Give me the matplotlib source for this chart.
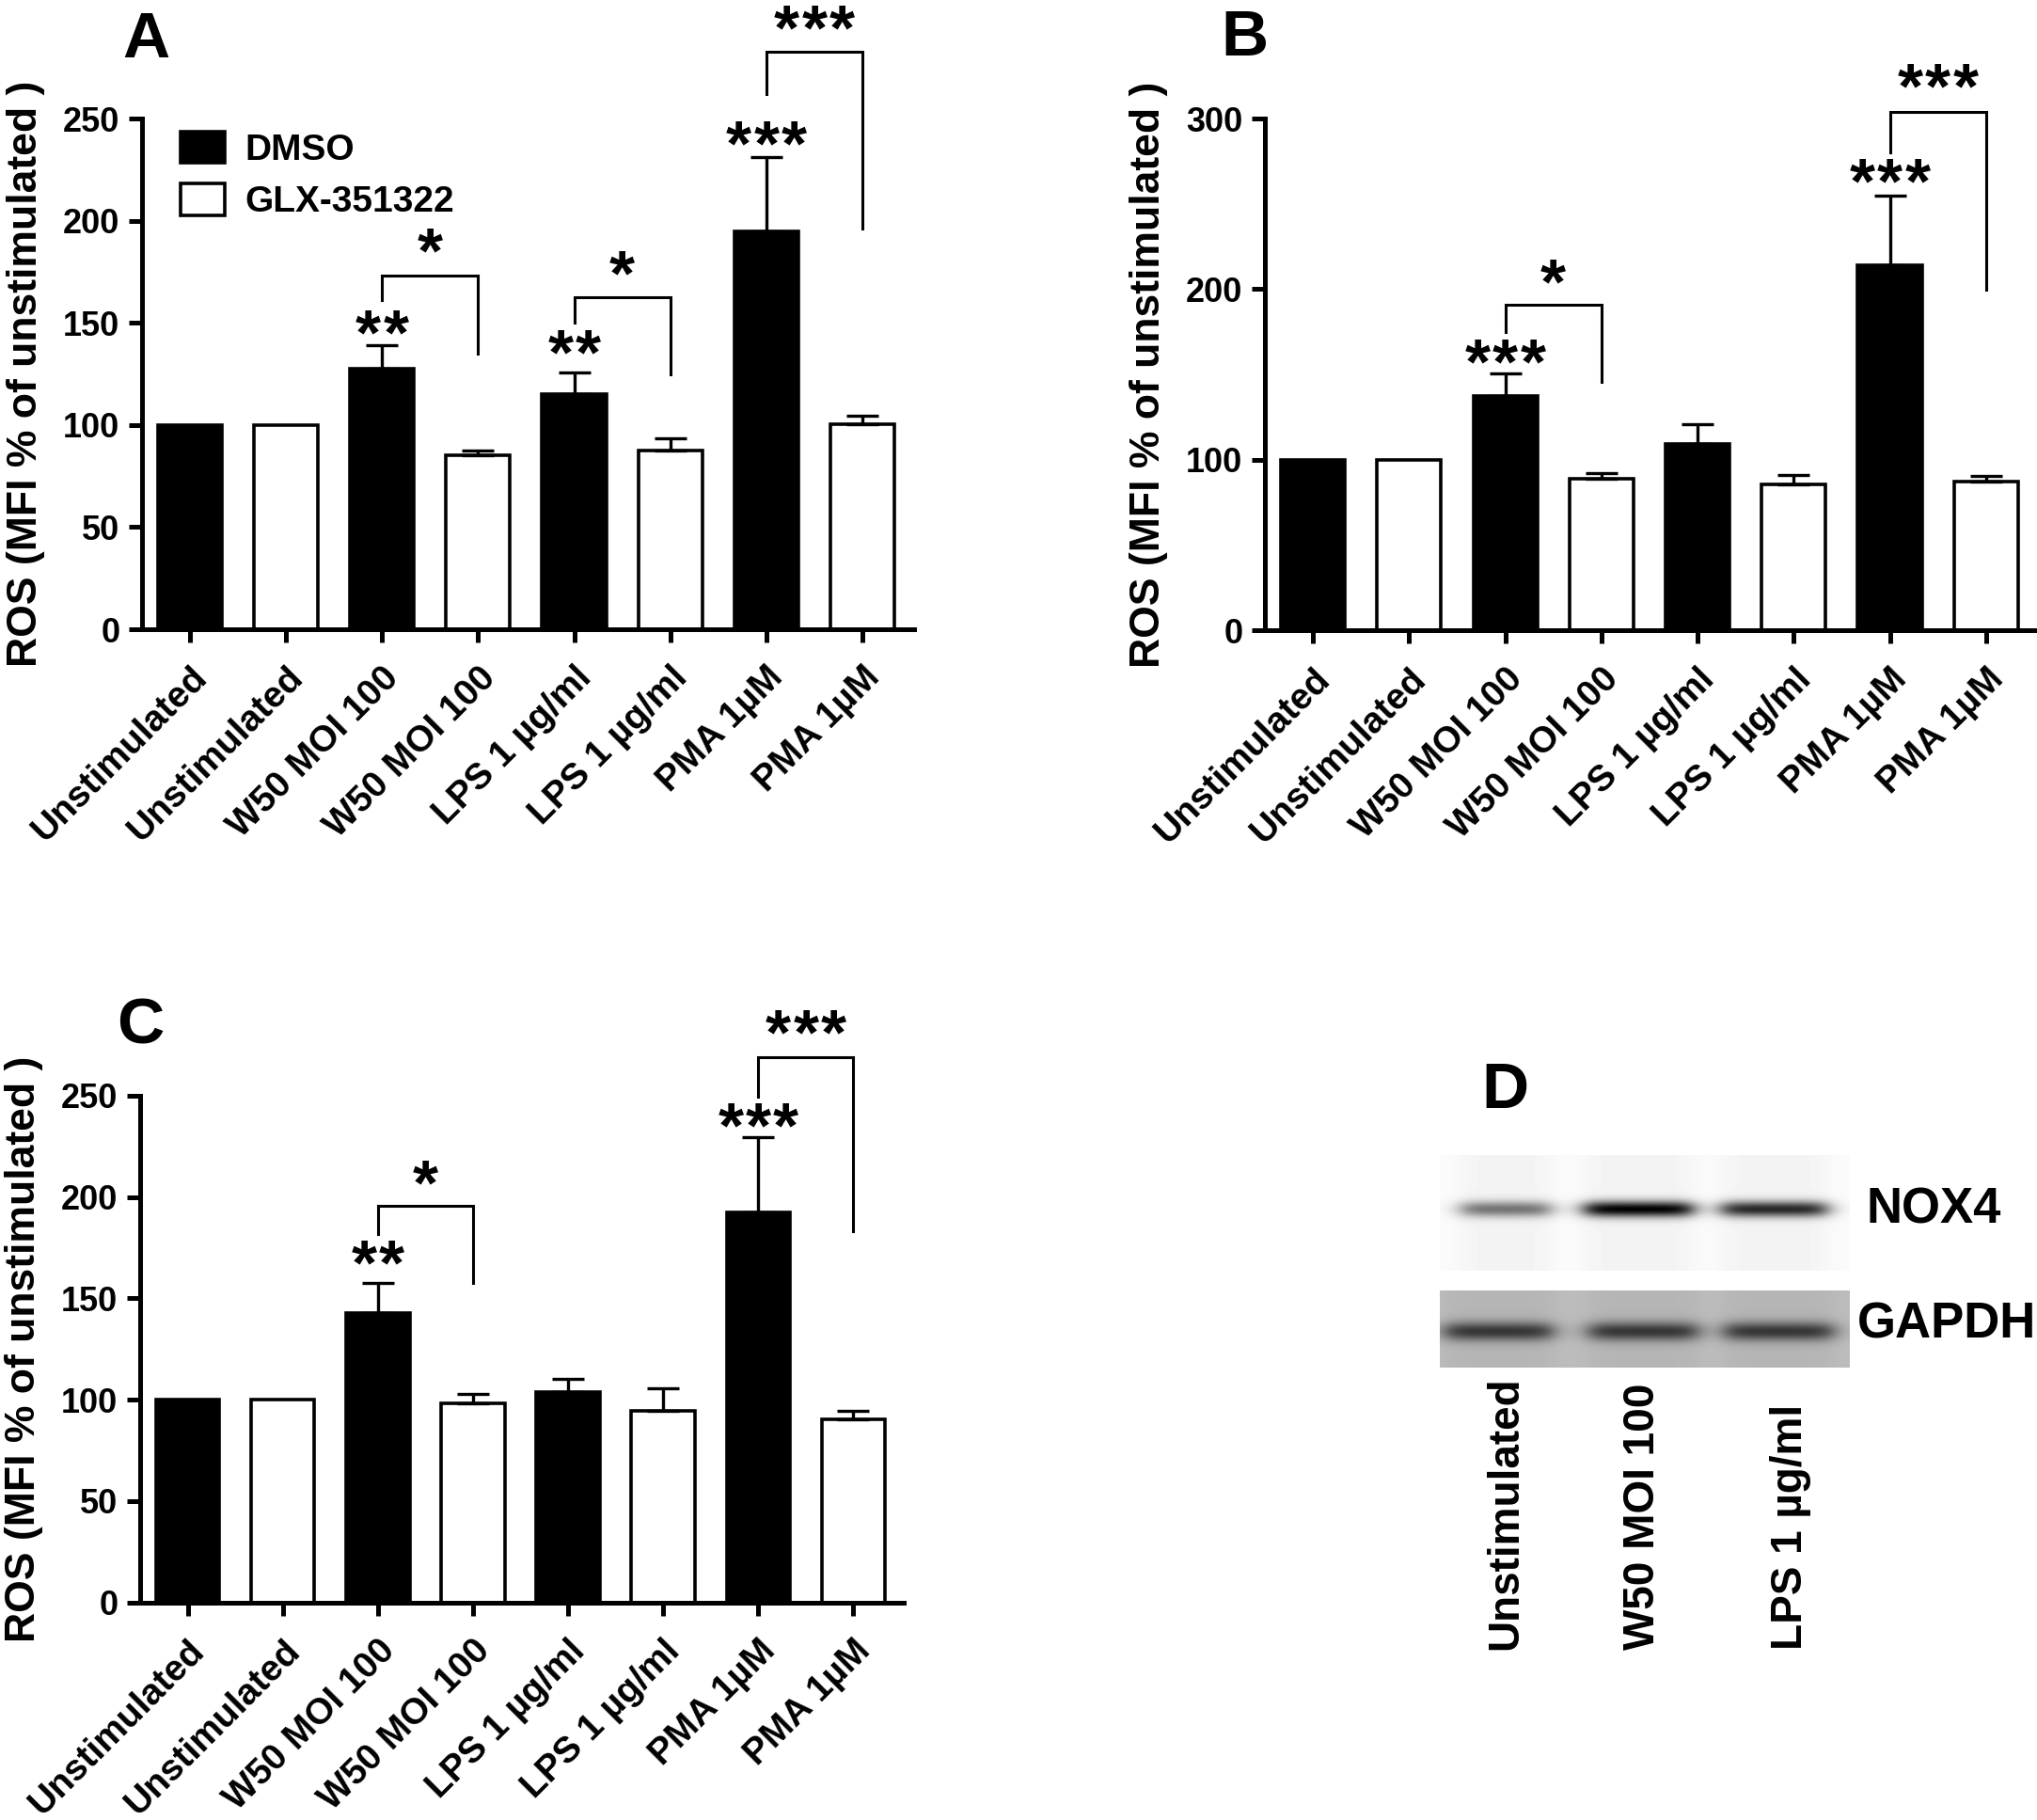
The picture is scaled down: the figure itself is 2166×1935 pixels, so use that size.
import numpy as np
import matplotlib
matplotlib.use("Agg")
import matplotlib.pyplot as plt
from matplotlib.patches import Patch

plt.rcParams['font.family'] = ['Liberation Sans', 'DejaVu Sans']
plt.rcParams['font.weight'] = 'bold'
plt.rcParams['axes.labelweight'] = 'bold'

# ---- data ----
labels = ["Unstimulated", "Unstimulated", "W50 MOI 100", "W50 MOI 100",
          "LPS 1 µg/ml", "LPS 1 µg/ml", "PMA 1µM", "PMA 1µM"]
treatment = ["DMSO", "GLX-351322"]

a_mean = [100, 100, 127.5, 85, 115, 87.3, 194.6, 100.5]
a_err = [0, 0, 11.4, 2.6, 10.8, 6.1, 36.3, 3.8]
b_mean = [100, 100, 137.5, 89, 109.6, 85.6, 214, 87.2]
b_err = [0, 0, 13, 3.3, 11.6, 5.6, 41, 3.4]
c_mean = [100, 100, 142.9, 98.4, 103.7, 94.4, 192.6, 90.5]
c_err = [0, 0, 14.8, 4.2, 6.6, 11.2, 36.8, 4.2]

# stars over single bars: (x index, y, number of stars)
a_stars = [(2, 150, 2), (4, 140.5, 2), (6, 242.5, 3)]
b_stars = [(2, 163.5, 3), (6, 269, 3)]
c_stars = [(2, 172.5, 2), (6, 240, 3)]
# brackets: (left, right, top, left end, right end, stars, star y)
a_brackets = [(2, 3, 173, 161, 135, 1, 190), (4, 5, 162.4, 150, 124.7, 1, 179),
              (6, 7, 282.7, 262, 196, 3, 299)]
b_brackets = [(2, 3, 190.8, 175, 146, 1, 210), (6, 7, 304, 280, 199.5, 3, 325)]
c_brackets = [(2, 3, 195.5, 181.7, 157.7, 1, 212), (6, 7, 269, 249.7, 183, 3, 286)]

# western blot (panel D)
blot_lanes = ["Unstimulated", "W50 MOI 100", "LPS 1 µg/ml"]
nox4_strength = [0.5, 0.95, 0.8]
gapdh_strength = [0.5, 0.5, 0.5]

W, H = 2166, 1935
fig = plt.figure(figsize=(W / 100, H / 100), dpi=100)

LW = 3.6
XT_FS = 28
YT_FS = 26
STAR_FS = 50


def put_stars(ax, x, y, n):
    # prism-like spaced asterisks, one glyph each
    for k in range(n):
        dx = (k - (n - 1) / 2) * 21
        ax.annotate("*", xy=(x, y), xytext=(dx, -24), textcoords='offset points',
                    ha='center', va='baseline', fontsize=STAR_FS, annotation_clip=False)


def panel(rect, mean, err, ymax, ystep, stars, brackets, xr):
    ax = fig.add_axes(rect)
    x = np.arange(len(mean))
    colors = ['black' if i % 2 == 0 else 'white' for i in x]
    ax.bar(x, mean, width=0.667, color=colors, edgecolor='black', linewidth=2.6, zorder=2)
    ax.errorbar(x[2:], mean[2:], yerr=[np.zeros(len(x) - 2), err[2:]], fmt='none',
                ecolor='black', elinewidth=2.4, capsize=12.5, capthick=2.4, zorder=3)
    ax.set_xlim(-0.5, xr)
    ax.set_ylim(0, ymax)
    ax.set_yticks(np.arange(0, ymax + 1, ystep))
    ax.set_xticks(x)
    ax.set_xticklabels(labels, rotation=45, ha='right', va='top', rotation_mode='anchor',
                       fontsize=XT_FS, fontweight='bold')
    ax.tick_params(axis='both', width=LW, length=10, pad=7)
    ax.tick_params(axis='y', labelsize=YT_FS)
    ax.tick_params(axis='x', pad=14)
    for s in ['top', 'right']:
        ax.spines[s].set_visible(False)
    for s in ['left', 'bottom']:
        ax.spines[s].set_linewidth(LW)
        ax.spines[s].set_capstyle('projecting')
    ax.set_ylabel("ROS (MFI % of unstimulated )", fontsize=32, labelpad=14)

    for xi, y, n in stars:
        put_stars(ax, xi, y, n)
    for x1, x2, top, lb, rb, n, ty in brackets:
        ax.plot([x1, x1, x2, x2], [lb, top, top, rb], color='black', lw=2.2,
                clip_on=False, solid_joinstyle='miter')
        put_stars(ax, (x1 + x2) / 2, ty, n)
    return ax


ax_a = panel([151 / W, 1 - 669 / H, 821 / W, 543 / H], a_mean, a_err, 250, 50,
             a_stars, a_brackets, 7.54)
ax_b = panel([1345 / W, 1 - 670.5 / H, 821 / W, 544.5 / H], b_mean, b_err, 300, 100,
             b_stars, b_brackets, 7.53)
ax_c = panel([149 / W, 1 - 1703.5 / H, 812 / W, 538.5 / H], c_mean, c_err, 250, 50,
             c_stars, c_brackets, 7.53)

# legend only in A
handles = [Patch(facecolor='black', edgecolor='black', linewidth=2.6),
           Patch(facecolor='white', edgecolor='black', linewidth=2.6)]
ax_a.legend(handles, treatment, loc='upper left', bbox_to_anchor=(0.05, 0.975),
            frameon=False, handlelength=1.2, handleheight=0.95,
            handletextpad=0.55, labelspacing=0.45, borderpad=0, borderaxespad=0,
            prop={'weight': 'bold', 'size': 28})

# panel letters
for lx, ly, s in [(155, 43, "A"), (1323, 41, "B"), (149, 1091, "C"), (1600, 1160, "D")]:
    fig.text(lx / W, 1 - ly / H, s, fontsize=50, fontweight='bold', ha='center', va='center')

# ---- panel D: blot drawn in pixel coords ----
ax_d = fig.add_axes([0, 0, 1, 1], zorder=-1)
ax_d.axis('off')


def blot(x0, x1, y0, y1, bg, centers, widths, yc, sy, strength):
    xs = np.arange(x0, x1)
    ys = np.arange(y0, y1)
    X, Y = np.meshgrid(xs, ys)
    img = np.full(X.shape, bg, dtype=float)
    for c, w, st in zip(centers, widths, strength):
        edge = 1 / (1 + np.exp((np.abs(X - c) - w / 2) / 7))
        # faint lane smear around each band
        img -= 0.03 * edge
        img -= st * edge * np.exp(-((Y - yc) / sy) ** 2)
    img = np.clip(img, 0, 1)
    ax_d.imshow(img, cmap='gray', vmin=0, vmax=1, extent=[x0, x1, y1, y0],
                interpolation='bilinear', aspect='auto')


blot(1531, 1967, 1228, 1351, 0.985, [1601, 1742, 1886], [95, 115, 112], 1285, 8.5,
     nox4_strength)
blot(1531, 1967, 1372, 1454, 0.74, [1593, 1747, 1891], [115, 116, 116], 1415, 10,
     gapdh_strength)
ax_d.set_xlim(0, W)
ax_d.set_ylim(H, 0)

ax_d.text(1984, 1286, "NOX4", fontsize=38, fontweight='bold', ha='left', va='center')
ax_d.text(1975, 1408, "GAPDH", fontsize=38, fontweight='bold', ha='left', va='center')
for lx, s in zip([1601, 1747, 1904], blot_lanes):
    ax_d.text(lx, 1754, s, fontsize=33, fontweight='bold', rotation=90,
              ha='center', va='bottom')

fig.savefig("out.png", dpi=100)
